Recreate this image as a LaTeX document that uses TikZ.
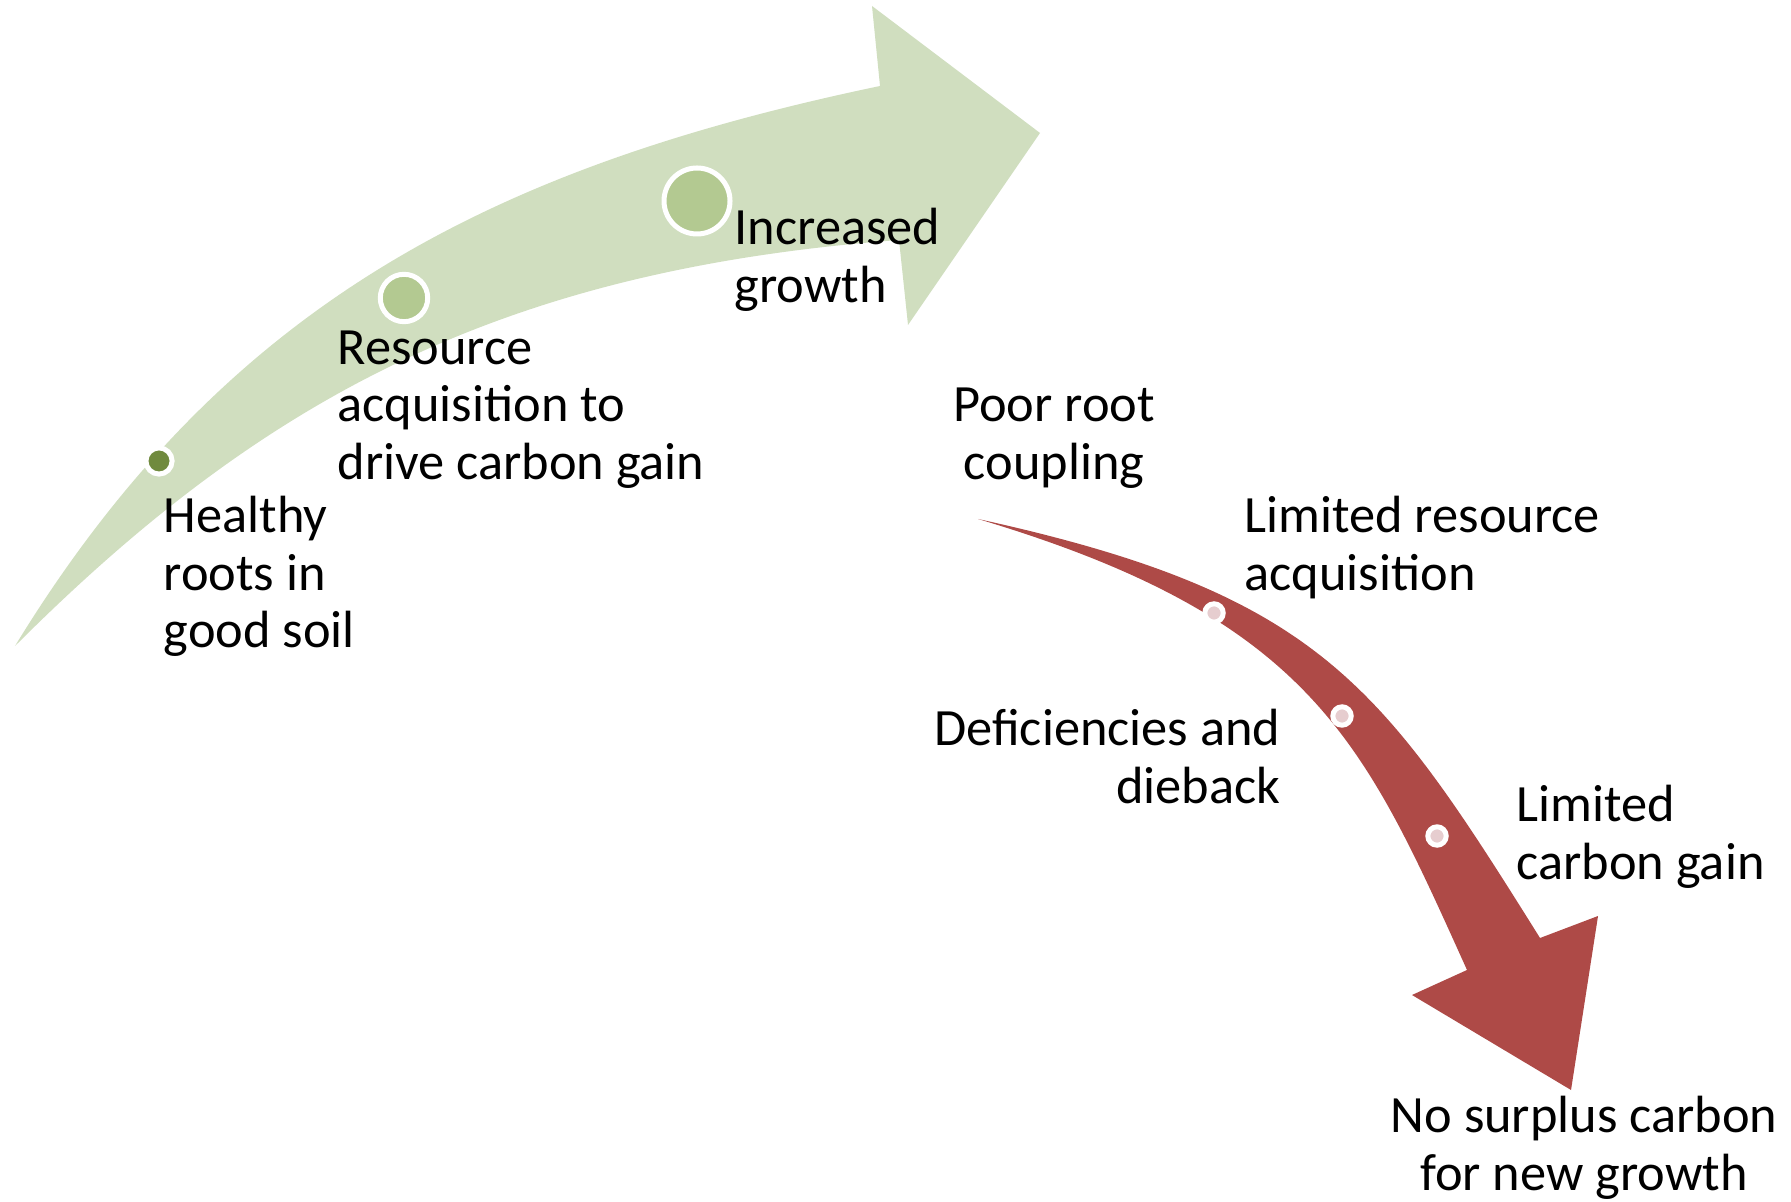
\documentclass[tikz,border=0pt]{standalone}
\usepackage{fontspec}
\setmainfont{Carlito}

\definecolor{leaf}{HTML}{D0DEBF}
\definecolor{leafdot}{HTML}{B3C991}
\definecolor{olivedot}{HTML}{708A3E}
\definecolor{rust}{HTML}{AE4A47}
\definecolor{rustdot}{HTML}{E6CDCF}

\begin{document}
\begin{tikzpicture}[
  every node/.style={font=\fontsize{14.9pt}{16.5pt}\selectfont, inner sep=0pt},
  lefttext/.style={align=left, anchor=base west},
  righttext/.style={align=right, anchor=base east},
  midtext/.style={align=center, anchor=base},
  bead/.style={circle, draw=white, line width=0.5mm},
]
\useasboundingbox (0,0) rectangle (17.91,12.01);

%Healthy path arrow

\fill [leaf] (0.15,5.55) .. controls (2.23,8.95) and (4.88,10.33) .. (8.80,11.15)
  -- (8.72,11.95) -- (10.40,10.68) -- (9.08,8.76) -- (8.99,9.61)
  .. controls (5.00,9.31) and (2.62,8.02) .. (0.15,5.55) -- cycle;

%Poor path arrow

\fill [rust] (9.78,6.82) .. controls (13.20,6.07) and (13.81,5.17) .. (15.40,2.63)
  -- (15.98,2.85) -- (15.71,1.11) -- (14.12,2.06) -- (14.67,2.31)
  .. controls (13.64,4.59) and (13.13,5.82) .. (9.78,6.82) -- cycle;

%Beads on the arrows

\node [bead, fill=olivedot, minimum size=2.62mm] (g1) at (1.59,7.40) {};
\node [bead, fill=leafdot, minimum size=4.74mm] (g2) at (4.04,9.03) {};
\node [bead, fill=leafdot, minimum size=6.60mm] (g3) at (6.97,10.00) {};

\node [bead, fill=rustdot, minimum size=1.84mm] (r1) at (12.14,5.88) {};
\node [bead, fill=rustdot, minimum size=1.84mm] (r2) at (13.42,4.85) {};
\node [bead, fill=rustdot, minimum size=1.84mm] (r3) at (14.37,3.65) {};

%Stage labels (placed at the baseline of the last line)

\node [lefttext] (healthy) at (1.63,5.53) {Healthy\\roots in\\good soil};
\node [lefttext] (resource) at (3.37,7.21) {Resource\\acquisition to\\drive carbon gain};
\node [lefttext] (growth) at (7.34,8.98) {Increased\\growth};

\node [midtext] (poor) at (10.54,7.21) {Poor root\\coupling};
\node [lefttext] (limres) at (12.44,6.10) {Limited resource\\acquisition};
\node [righttext] (dieback) at (12.81,3.98) {Deficiencies and\\dieback};
\node [lefttext] (limcarb) at (15.16,3.22) {Limited\\carbon gain};
\node [midtext] (nosurplus) at (15.84,0.11) {No surplus carbon\\for new growth};

\end{tikzpicture}
\end{document}
